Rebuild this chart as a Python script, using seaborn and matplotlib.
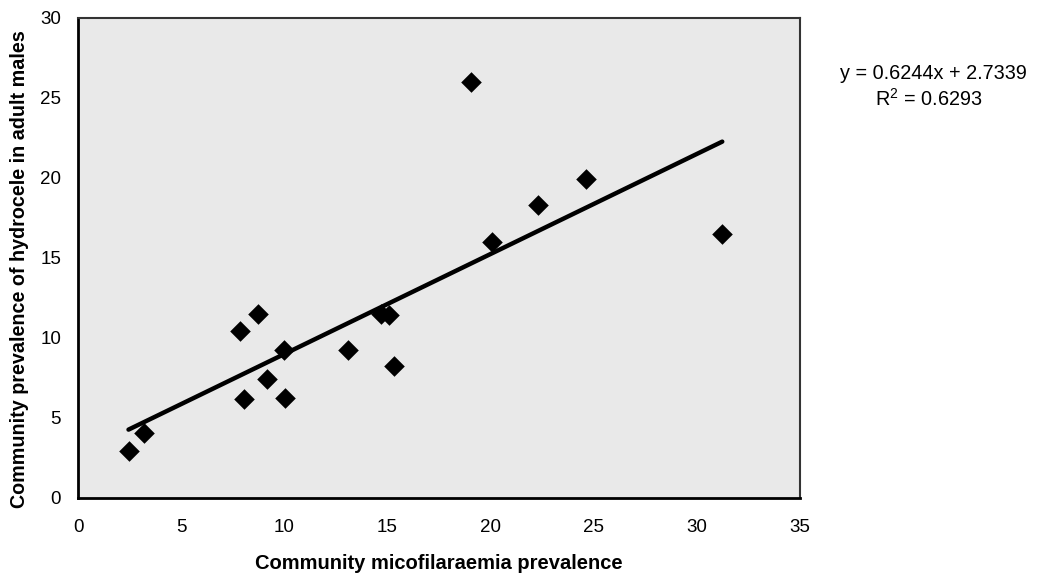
import matplotlib
matplotlib.use("Agg")
import matplotlib.pyplot as plt
import seaborn as sns
import numpy as np
import pandas as pd

# Data
mf_prevalence = [2.43, 3.16, 7.83, 8.72, 8.05, 9.14, 10.0, 10.05, 13.1,
                 14.7, 15.05, 15.3, 19.05, 20.05, 22.3, 24.65, 31.25]
hydrocele_prevalence = [2.94, 4.05, 10.4, 11.5, 6.15, 7.4, 9.2, 6.2, 9.25,
                        11.5, 11.4, 8.2, 25.95, 15.95, 18.3, 19.9, 16.45]
slope = 0.6244
intercept = 2.7339
r_squared = 0.6293
x_ticks = [0, 5, 10, 15, 20, 25, 30, 35]
y_ticks = [0, 5, 10, 15, 20, 25, 30]

df = pd.DataFrame({"mf": mf_prevalence, "hyd": hydrocele_prevalence})

sns.set_theme(style="white")
plt.rcParams["font.family"] = ["Liberation Sans", "DejaVu Sans"]
plt.rcParams["text.color"] = "black"
plt.rcParams["axes.labelcolor"] = "black"
plt.rcParams["xtick.color"] = "black"
plt.rcParams["ytick.color"] = "black"

fig = plt.figure(figsize=(10.39, 5.75), dpi=100)
ax = fig.add_axes([0.0755, 0.1345, 0.694, 0.835])
ax.set_facecolor("#e9e9e9")

sns.scatterplot(data=df, x="mf", y="hyd", marker="D", s=110, color="black",
                edgecolor="black", linewidth=0, ax=ax, zorder=3)

xl = np.array([min(mf_prevalence), max(mf_prevalence)])
ax.plot(xl, slope * xl + intercept, color="black", lw=3.2, solid_capstyle="round", zorder=2)

ax.set_xlim(0, 35)
ax.set_ylim(0, 30)
ax.set_xticks(x_ticks)
ax.set_yticks(y_ticks)
ax.tick_params(axis="both", direction="inout", length=7, width=1.2, color="black",
               labelsize=13.5, labelcolor="black")
ax.tick_params(axis="x", pad=12)
ax.tick_params(axis="y", pad=9)

ax.set_xlabel("Community micofilaraemia prevalence", fontsize=14.5, fontweight="bold",
              labelpad=13, color="black")
ax.set_ylabel("Community prevalence of hydrocele in adult males", fontsize=14.2,
              fontweight="bold", labelpad=8, color="black")
ax.yaxis.label.set_y(0.475)

for side in ["left", "bottom"]:
    ax.spines[side].set_color("black")
    ax.spines[side].set_linewidth(2)
for side in ["top", "right"]:
    ax.spines[side].set_color("#333333")
    ax.spines[side].set_linewidth(1.5)

fig.text(0.898, 0.873, f"y = {slope}x + {intercept}", ha="center", va="center",
         fontsize=14.3, color="black")
fig.text(0.894, 0.828, "R$^{\\mathregular{2}}$ = " + f"{r_squared}", ha="center", va="center",
         fontsize=14.3, color="black")

fig.savefig("out.png", dpi=100)
